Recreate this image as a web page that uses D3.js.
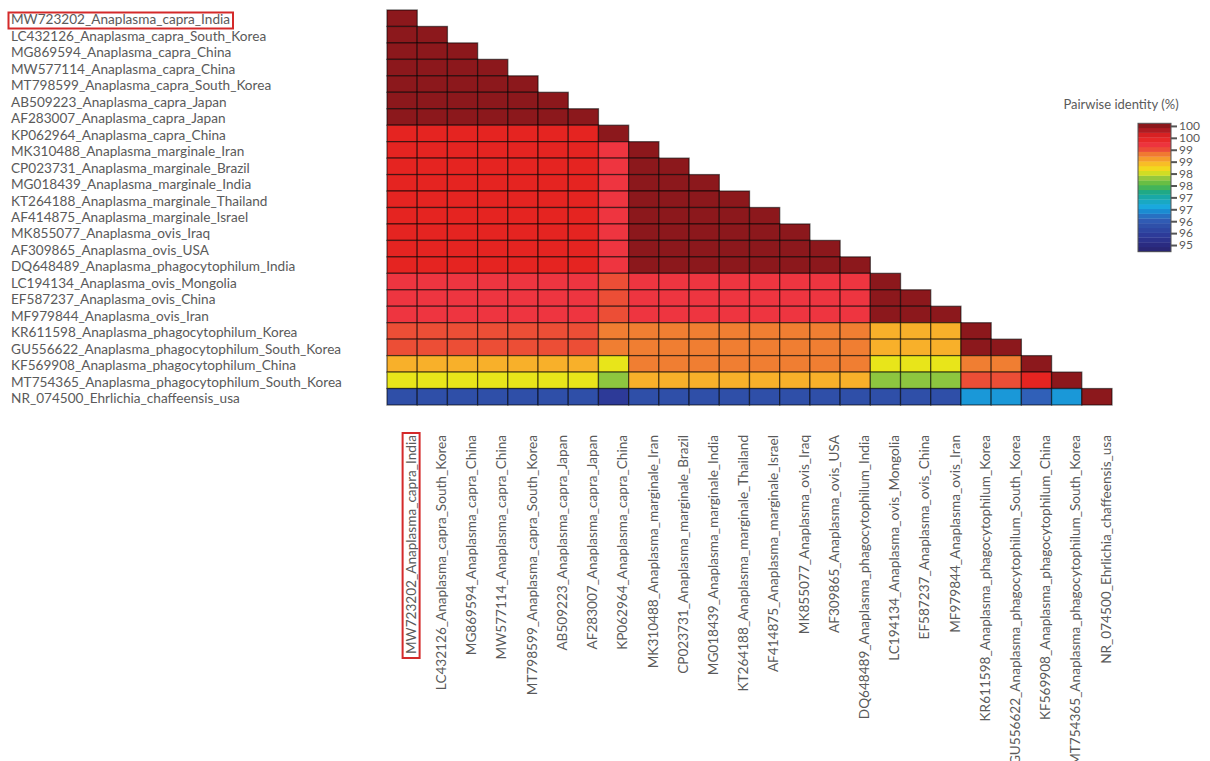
<!DOCTYPE html>
<html>
<head>
<meta charset="utf-8">
<script src="https://cdn.jsdelivr.net/npm/d3@7"></script>
<style>
  body { margin: 0; background: #fff; }
  text { font-family: Lato, "Open Sans", sans-serif; fill: #5a5a5a; }
</style>
</head>
<body>
<div id="chart"></div>
<script>
// sequence names, same order for rows and columns
const sequences = [
  "MW723202_Anaplasma_capra_India",
  "LC432126_Anaplasma_capra_South_Korea",
  "MG869594_Anaplasma_capra_China",
  "MW577114_Anaplasma_capra_China",
  "MT798599_Anaplasma_capra_South_Korea",
  "AB509223_Anaplasma_capra_Japan",
  "AF283007_Anaplasma_capra_Japan",
  "KP062964_Anaplasma_capra_China",
  "MK310488_Anaplasma_marginale_Iran",
  "CP023731_Anaplasma_marginale_Brazil",
  "MG018439_Anaplasma_marginale_India",
  "KT264188_Anaplasma_marginale_Thailand",
  "AF414875_Anaplasma_marginale_Israel",
  "MK855077_Anaplasma_ovis_Iraq",
  "AF309865_Anaplasma_ovis_USA",
  "DQ648489_Anaplasma_phagocytophilum_India",
  "LC194134_Anaplasma_ovis_Mongolia",
  "EF587237_Anaplasma_ovis_China",
  "MF979844_Anaplasma_ovis_Iran",
  "KR611598_Anaplasma_phagocytophilum_Korea",
  "GU556622_Anaplasma_phagocytophilum_South_Korea",
  "KF569908_Anaplasma_phagocytophilum_China",
  "MT754365_Anaplasma_phagocytophilum_South_Korea",
  "NR_074500_Ehrlichia_chaffeensis_usa"
];

// pairwise identity (%), lower triangle, row i holds columns 0..i
const identity = [
  [100],
  [100, 100],
  [100, 100, 100],
  [100, 100, 100, 100],
  [100, 100, 100, 100, 100],
  [100, 100, 100, 100, 100, 100],
  [100, 100, 100, 100, 100, 100, 100],
  [99.5, 99.5, 99.5, 99.5, 99.5, 99.5, 99.5, 100],
  [99.5, 99.5, 99.5, 99.5, 99.5, 99.5, 99.5, 99.2, 100],
  [99.5, 99.5, 99.5, 99.5, 99.5, 99.5, 99.5, 99.2, 100, 100],
  [99.5, 99.5, 99.5, 99.5, 99.5, 99.5, 99.5, 99.2, 100, 100, 100],
  [99.5, 99.5, 99.5, 99.5, 99.5, 99.5, 99.5, 99.2, 100, 100, 100, 100],
  [99.5, 99.5, 99.5, 99.5, 99.5, 99.5, 99.5, 99.2, 100, 100, 100, 100, 100],
  [99.5, 99.5, 99.5, 99.5, 99.5, 99.5, 99.5, 99.2, 100, 100, 100, 100, 100, 100],
  [99.5, 99.5, 99.5, 99.5, 99.5, 99.5, 99.5, 99.2, 100, 100, 100, 100, 100, 100, 100],
  [99.5, 99.5, 99.5, 99.5, 99.5, 99.5, 99.5, 99.2, 100, 100, 100, 100, 100, 100, 100, 100],
  [99.2, 99.2, 99.2, 99.2, 99.2, 99.2, 99.2, 99.0, 99.2, 99.2, 99.2, 99.2, 99.2, 99.2, 99.2, 99.2, 100],
  [99.2, 99.2, 99.2, 99.2, 99.2, 99.2, 99.2, 99.0, 99.2, 99.2, 99.2, 99.2, 99.2, 99.2, 99.2, 99.2, 100, 100],
  [99.2, 99.2, 99.2, 99.2, 99.2, 99.2, 99.2, 99.0, 99.2, 99.2, 99.2, 99.2, 99.2, 99.2, 99.2, 99.2, 100, 100, 100],
  [99.0, 99.0, 99.0, 99.0, 99.0, 99.0, 99.0, 98.8, 98.8, 98.8, 98.8, 98.8, 98.8, 98.8, 98.8, 98.8, 98.5, 98.5, 98.5, 100],
  [99.0, 99.0, 99.0, 99.0, 99.0, 99.0, 99.0, 98.8, 98.8, 98.8, 98.8, 98.8, 98.8, 98.8, 98.8, 98.8, 98.5, 98.5, 98.5, 100, 100],
  [98.5, 98.5, 98.5, 98.5, 98.5, 98.5, 98.5, 98.1, 98.8, 98.8, 98.8, 98.8, 98.8, 98.8, 98.8, 98.8, 98.1, 98.1, 98.1, 98.8, 98.8, 100],
  [98.1, 98.1, 98.1, 98.1, 98.1, 98.1, 98.1, 97.8, 98.5, 98.5, 98.5, 98.5, 98.5, 98.5, 98.5, 98.5, 97.8, 97.8, 97.8, 99.0, 99.0, 99.5, 100],
  [95.8, 95.8, 95.8, 95.8, 95.8, 95.8, 95.8, 95.4, 95.8, 95.8, 95.8, 95.8, 95.8, 95.8, 95.8, 95.8, 95.8, 95.8, 95.8, 96.5, 96.5, 96.1, 96.5, 100]
];

// colour bar
const legendTicks = [95, 95.5, 96, 96.5, 97, 97.5, 98, 98.5, 99, 99.5, 100];
const legendDomain = [94.72, 100.11];
const colourStops = [94.7, 95.0, 95.4, 95.8, 96.1, 96.4, 96.6, 96.9, 97.2, 97.5, 97.8, 98.1, 98.3, 98.5, 98.8, 99.0, 99.2, 99.5, 99.75, 99.9, 100.1];
const colourRange = ["#28246e", "#2a2a80", "#2d3a98", "#2f4fa8", "#3060b8", "#1a88d0", "#1aa8e0", "#18a8b8", "#1ba88a", "#50b848", "#8dc63f", "#e8e51a", "#f8d020", "#f8b02a", "#f07e32", "#ec4e36", "#ee3540", "#e52421", "#c81e25", "#8e1a1f", "#8a1519"];

const width = 1210;
const height = 761;

const svg = d3.select("#chart")
  .append("svg")
  .attr("width", width)
  .attr("height", height);

const color = d3.scaleLinear().domain(colourStops).range(colourRange).clamp(true);

const x = d3.scaleBand().domain(d3.range(sequences.length)).range([387, 1112]);
const y = d3.scaleBand().domain(d3.range(sequences.length)).range([10, 405]);

// flatten the triangle into cells
const cells = [];
identity.forEach((row, i) => row.forEach((v, j) => cells.push({ row: i, col: j, value: v })));

svg.append("g")
  .selectAll("rect")
  .data(cells)
  .enter()
  .append("rect")
  .attr("x", (d) => x(d.col))
  .attr("y", (d) => y(d.row))
  .attr("width", x.bandwidth())
  .attr("height", y.bandwidth())
  .attr("fill", (d) => color(d.value))
  .attr("stroke", "rgba(0,0,0,0.55)")
  .attr("stroke-width", 1.3);

// row labels
svg.append("g")
  .selectAll("text")
  .data(sequences)
  .enter()
  .append("text")
  .attr("x", 11)
  .attr("y", (d, i) => y(i) + y.bandwidth() / 2 + 1.5)
  .attr("dy", "0.35em")
  .style("font-size", "13.6px")
  .text((d) => d);

// column labels, rotated (the last long ones run off the bottom, as in the source)
svg.append("g")
  .selectAll("text")
  .data(sequences)
  .enter()
  .append("text")
  .attr("transform", (d, i) => `translate(${x(i) + x.bandwidth() / 2 + 9},435) rotate(-90)`)
  .attr("dy", "0.35em")
  .attr("text-anchor", "end")
  .style("font-size", "13.6px")
  .text((d) => d);

// highlight boxes on the query sequence
svg.append("rect")
  .attr("x", 8.5).attr("y", 12.5)
  .attr("width", 224.5).attr("height", 16)
  .attr("fill", "none").attr("stroke", "#d42a2a").attr("stroke-width", 2);

svg.append("rect")
  .attr("x", x(0) + x.bandwidth() / 2 + 0.5).attr("y", 433)
  .attr("width", 17).attr("height", 225)
  .attr("fill", "none").attr("stroke", "#d42a2a").attr("stroke-width", 2);

// legend
const ly = d3.scaleLinear().domain(legendDomain).range([251.7, 123.3]);
const legend = svg.append("g");
const bandStep = 0.2;
const bands = d3.range(legendDomain[0], legendDomain[1], bandStep);

legend.selectAll("rect.band")
  .data(bands)
  .enter()
  .append("rect")
  .attr("class", "band")
  .attr("x", 1138)
  .attr("width", 33)
  .attr("y", (d) => ly(Math.min(d + bandStep, legendDomain[1])))
  .attr("height", (d) => ly(d) - ly(Math.min(d + bandStep, legendDomain[1])) + 0.3)
  .attr("fill", (d) => color(d + bandStep / 2));

legend.append("rect")
  .attr("x", 1138).attr("y", ly(legendDomain[1]))
  .attr("width", 33).attr("height", ly(legendDomain[0]) - ly(legendDomain[1]))
  .attr("fill", "none").attr("stroke", "#555").attr("stroke-width", 1);

const legendAxis = legend.append("g")
  .attr("transform", "translate(1171,0)")
  .call(d3.axisRight(ly).tickValues(legendTicks).tickSize(6).tickPadding(2).tickFormat((d) => Math.round(d)));

legendAxis.select(".domain").remove();
legendAxis.selectAll(".tick line").attr("stroke", "#555").attr("stroke-width", 2);
legendAxis.selectAll(".tick text")
  .style("font-family", "Lato, 'Open Sans', sans-serif")
  .style("font-size", "12px")
  .style("fill", "#5a5a5a");

legend.append("text")
  .attr("x", 1121)
  .attr("y", 109)
  .attr("text-anchor", "middle")
  .style("font-size", "13px")
  .text("Pairwise identity (%)");
</script>
</body>
</html>
